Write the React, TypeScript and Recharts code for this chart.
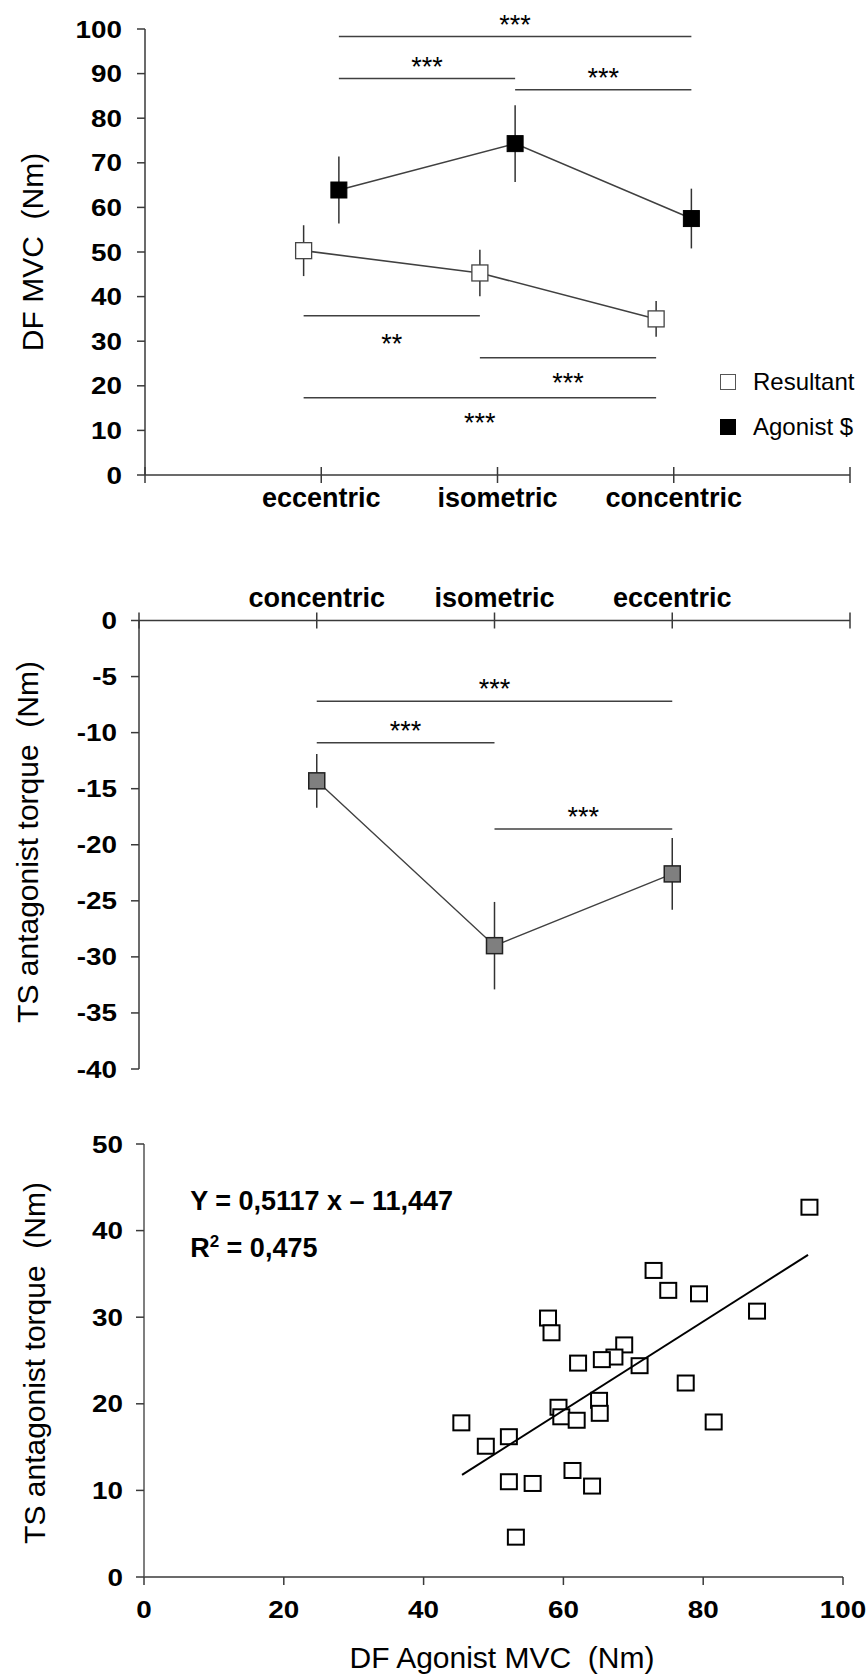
import {
  ErrorBar,
  Legend,
  Line,
  LineChart,
  ReferenceDot,
  ReferenceLine,
  Scatter,
  ScatterChart,
  XAxis,
  YAxis,
} from "recharts";

const FONT = '"Liberation Sans", Arial, Helvetica, sans-serif';
const AXIS = "#3a3a3a";
const LINE = "#404040";

// panel A: DF MVC per contraction type
const mvcPhases = ["eccentric", "isometric", "concentric"];
const resultantMvc = [50.3, 45.3, 35.0];
const resultantSd = [5.7, 5.2, 4.0];
const agonistMvc = [63.9, 74.3, 57.5];
const agonistSd = [7.5, 8.6, 6.7];
const mvcTicks = [0, 10, 20, 30, 40, 50, 60, 70, 80, 90, 100];
const legendNames = ["Resultant", "Agonist $"];

// significance bars (phase index from/to, series, height in Nm)
const mvcBrackets = [
  { from: 0, to: 2, series: "agonist", y: 98.3, stars: "***", side: "above" },
  { from: 0, to: 1, series: "agonist", y: 88.9, stars: "***", side: "above" },
  { from: 1, to: 2, series: "agonist", y: 86.4, stars: "***", side: "above" },
  { from: 0, to: 1, series: "resultant", y: 35.7, stars: "**", side: "below" },
  { from: 1, to: 2, series: "resultant", y: 26.3, stars: "***", side: "below" },
  { from: 0, to: 2, series: "resultant", y: 17.3, stars: "***", side: "below" },
];

// panel B: TS antagonist torque
const torquePhases = ["concentric", "isometric", "eccentric"];
const antagonistTorque = [-14.3, -29.0, -22.6];
const antagonistSd = [2.4, 3.9, 3.2];
const torqueTicks = [0, -5, -10, -15, -20, -25, -30, -35, -40];
const torqueBrackets = [
  { from: 0, to: 2, y: -7.2, stars: "***" },
  { from: 0, to: 1, y: -10.9, stars: "***" },
  { from: 1, to: 2, y: -18.6, stars: "***" },
];

// panel C: agonist MVC vs antagonist torque
const agonistMvcX = [
  95.2, 72.9, 75.0, 79.4, 87.7, 57.8, 58.3, 68.7, 67.3, 65.5, 62.1, 70.9, 77.5, 65.1,
  59.3, 59.7, 65.2, 61.9, 45.4, 81.5, 52.2, 48.9, 61.3, 52.2, 55.6, 64.1, 53.2,
];
const antagonistTorqueY = [
  42.7, 35.4, 33.1, 32.7, 30.7, 29.9, 28.2, 26.8, 25.4, 25.1, 24.7, 24.4, 22.4, 20.4,
  19.6, 18.5, 18.9, 18.1, 17.8, 17.9, 16.2, 15.1, 12.3, 11.0, 10.8, 10.5, 4.6,
];
const trendX = [45.5, 95];
const trendY = [11.8, 37.2];
const scatterXTicks = [0, 20, 40, 60, 80, 100];
const scatterYTicks = [0, 10, 20, 30, 40, 50];

const SERIES_SHIFT: Record<string, number> = { resultant: -0.1, agonist: 0.1, none: 0 };

const resultantRows = mvcPhases.map((_, i) => ({
  pos: i + 1 + SERIES_SHIFT.resultant,
  value: resultantMvc[i],
  sd: resultantSd[i],
}));
const agonistRows = mvcPhases.map((_, i) => ({
  pos: i + 1 + SERIES_SHIFT.agonist,
  value: agonistMvc[i],
  sd: agonistSd[i],
}));
const torqueRows = torquePhases.map((_, i) => ({
  pos: i + 1,
  value: antagonistTorque[i],
  sd: antagonistSd[i],
}));
const scatterRows = agonistMvcX.map((x, i) => ({ x, y: antagonistTorqueY[i] }));
const trendRows = trendX.map((x, i) => ({ x, y: trendY[i] }));

// bold digits, a bit wider than plain Arial like in the source figure
function NumTick(props: any) {
  const { x, y, payload, side } = props;
  const anchor = side === "left" ? "end" : "middle";
  const base = side === "left" ? y + 8.5 : y + 17;
  return (
    <text
      transform={`translate(${x},${base}) scale(1.16,1)`}
      textAnchor={anchor}
      fontSize={24}
      fontWeight={700}
      fill="#000"
      fontFamily={FONT}
    >
      {payload.value}
    </text>
  );
}

function PhaseTick(props: any) {
  const { x, y, payload, names, side } = props;
  const label = names[payload.value - 1] ?? "";
  const baseline = side === "bottom" ? y + 32 : y - 14;
  return (
    <g>
      <line x1={x} x2={x} y1={y - 8} y2={y + 8} stroke={AXIS} strokeWidth={1.5} />
      {label && (
        <text
          x={x}
          y={baseline}
          textAnchor="middle"
          fontSize={27}
          fontWeight={700}
          fill="#000"
          fontFamily={FONT}
        >
          {label}
        </text>
      )}
    </g>
  );
}

function VTitle({ px, py, title }: any) {
  return (
    <text
      transform={`translate(${px},${py}) rotate(-90)`}
      textAnchor="middle"
      fontSize={30}
      fill="#000"
      fontFamily={FONT}
      style={{ whiteSpace: "pre" }}
    >
      {title}
    </text>
  );
}

function HTitle({ px, py, title }: any) {
  return (
    <text
      x={px}
      y={py}
      textAnchor="middle"
      fontSize={30}
      fill="#000"
      fontFamily={FONT}
      style={{ whiteSpace: "pre" }}
    >
      {title}
    </text>
  );
}

function squareDot(fill: string, stroke: string, strokeWidth: number, w = 16, h = 16) {
  return (p: any) => {
    if (p.cx == null || p.cy == null) return <g key={p.key} />;
    return (
      <rect
        key={p.key ?? `${p.cx}-${p.cy}`}
        x={p.cx - w / 2}
        y={p.cy - h / 2}
        width={w}
        height={h}
        fill={fill}
        stroke={stroke}
        strokeWidth={strokeWidth}
      />
    );
  };
}

function starShape(text: string, offset: number) {
  return (p: any) => (
    <text
      x={p.cx}
      y={p.cy + offset}
      textAnchor="middle"
      fontSize={27}
      fill="#000"
      fontFamily={FONT}
    >
      {text}
    </text>
  );
}

function bracketMarks(
  list: { from: number; to: number; y: number; stars: string; series?: string; side?: string }[],
  keyPrefix: string
) {
  const out: any[] = [];
  list.forEach((b, i) => {
    const shift = SERIES_SHIFT[b.series ?? "none"];
    const x1 = b.from + 1 + shift;
    const x2 = b.to + 1 + shift;
    out.push(
      <ReferenceLine
        key={`${keyPrefix}-l${i}`}
        segment={[
          { x: x1, y: b.y },
          { x: x2, y: b.y },
        ]}
        stroke={LINE}
        strokeWidth={1.5}
        ifOverflow="visible"
      />
    );
    const below = b.side === "below";
    out.push(
      <ReferenceDot
        key={`${keyPrefix}-t${i}`}
        x={(x1 + x2) / 2}
        y={b.y}
        r={1}
        ifOverflow="visible"
        shape={starShape(b.stars, below ? (b.stars.length === 2 ? 37 : 34) : -3)}
      />
    );
  });
  return out;
}

function MvcLegend() {
  const marks = [
    { fill: "#fff", stroke: "#555" },
    { fill: "#000", stroke: "#000" },
  ];
  return (
    <div style={{ fontFamily: FONT, fontSize: 24, color: "#000" }}>
      {legendNames.map((name, i) => (
        <div key={name} style={{ display: "flex", alignItems: "center", height: 45 }}>
          <span
            style={{
              display: "inline-block",
              width: 14,
              height: 14,
              background: marks[i].fill,
              border: `1px solid ${marks[i].stroke}`,
              marginRight: 17,
            }}
          />
          <span>{name}</span>
        </div>
      ))}
    </div>
  );
}

function MvcPanel() {
  return (
    <LineChart width={868} height={540} margin={{ top: 29, right: 18, bottom: 15, left: 0 }}>
      <XAxis
        type="number"
        dataKey="pos"
        domain={[0, 4]}
        ticks={[0, 1, 2, 3, 4]}
        interval={0}
        height={50}
        tickSize={0}
        tickMargin={0}
        tickLine={false}
        axisLine={{ stroke: AXIS, strokeWidth: 1.5 }}
        tick={<PhaseTick names={mvcPhases} side="bottom" />}
      />
      <YAxis
        type="number"
        domain={[0, 100]}
        ticks={mvcTicks}
        interval={0}
        width={145}
        tickSize={8}
        tickMargin={15}
        tick={<NumTick side="left" />}
        tickLine={{ stroke: AXIS, strokeWidth: 1.5 }}
        axisLine={{ stroke: AXIS, strokeWidth: 1.5 }}
        label={<VTitle px={43} py={252} title="DF MVC  (Nm)" />}
      />
      {bracketMarks(mvcBrackets, "mvc")}
      <Line
        data={resultantRows}
        dataKey="value"
        name={legendNames[0]}
        stroke={LINE}
        strokeWidth={1.6}
        dot={squareDot("#fff", "#444", 1.3)}
        isAnimationActive={false}
      >
        <ErrorBar dataKey="sd" width={0} stroke="#333" strokeWidth={1.5} direction="y" />
      </Line>
      <Line
        data={agonistRows}
        dataKey="value"
        name={legendNames[1]}
        stroke={LINE}
        strokeWidth={1.6}
        dot={squareDot("#000", "#000", 1)}
        isAnimationActive={false}
      >
        <ErrorBar dataKey="sd" width={0} stroke="#333" strokeWidth={1.5} direction="y" />
      </Line>
      <Legend
        layout="vertical"
        align="center"
        verticalAlign="middle"
        wrapperStyle={{ left: 720, top: 359, width: 148 }}
        content={() => <MvcLegend />}
      />
    </LineChart>
  );
}

function TorquePanel() {
  return (
    <LineChart width={868} height={560} margin={{ top: 20.5, right: 18, bottom: 31, left: 0 }}>
      <XAxis
        type="number"
        dataKey="pos"
        orientation="top"
        domain={[0, 4]}
        ticks={[0, 1, 2, 3, 4]}
        interval={0}
        height={60}
        tickSize={0}
        tickMargin={0}
        tickLine={false}
        axisLine={{ stroke: AXIS, strokeWidth: 1.5 }}
        tick={<PhaseTick names={torquePhases} side="top" />}
      />
      <YAxis
        type="number"
        domain={[-40, 0]}
        ticks={torqueTicks}
        interval={0}
        width={139}
        tickSize={8}
        tickMargin={14}
        tick={<NumTick side="left" />}
        tickLine={{ stroke: AXIS, strokeWidth: 1.5 }}
        axisLine={{ stroke: AXIS, strokeWidth: 1.5 }}
        label={<VTitle px={38} py={302} title="TS antagonist torque  (Nm)" />}
      />
      {bracketMarks(torqueBrackets, "ts")}
      <Line
        data={torqueRows}
        dataKey="value"
        stroke={LINE}
        strokeWidth={1.4}
        dot={squareDot("#7f7f7f", "#222", 1.5)}
        isAnimationActive={false}
      >
        <ErrorBar dataKey="sd" width={0} stroke="#333" strokeWidth={1.5} direction="y" />
      </Line>
    </LineChart>
  );
}

function EquationShape(p: any) {
  return (
    <text x={p.cx} y={p.cy} fontSize={27} fontWeight={700} fill="#000" fontFamily={FONT}>
      Y = 0,5117 x – 11,447
    </text>
  );
}

function RsqShape(p: any) {
  return (
    <text x={p.cx} y={p.cy} fontSize={27} fontWeight={700} fill="#000" fontFamily={FONT}>
      R
      <tspan fontSize={17} dy={-10}>
        2
      </tspan>
      <tspan dy={10}> = 0,475</tspan>
    </text>
  );
}

function ScatterPanel() {
  return (
    <ScatterChart width={868} height={574} margin={{ top: 44, right: 25, bottom: 37, left: 0 }}>
      <XAxis
        type="number"
        dataKey="x"
        domain={[0, 100]}
        ticks={scatterXTicks}
        interval={0}
        height={60}
        tickSize={8}
        tickMargin={16}
        tick={<NumTick side="bottom" />}
        tickLine={{ stroke: AXIS, strokeWidth: 1.5 }}
        axisLine={{ stroke: AXIS, strokeWidth: 1.5 }}
        label={<HTitle px={502} py={568} title="DF Agonist MVC  (Nm)" />}
      />
      <YAxis
        type="number"
        dataKey="y"
        domain={[0, 50]}
        ticks={scatterYTicks}
        interval={0}
        width={144}
        tickSize={8}
        tickMargin={13}
        tick={<NumTick side="left" />}
        tickLine={{ stroke: AXIS, strokeWidth: 1.5 }}
        axisLine={{ stroke: "#555", strokeWidth: 1.5 }}
        label={<VTitle px={45} py={263} title="TS antagonist torque  (Nm)" />}
      />
      <ReferenceDot x={6.6} y={42.4} r={1} ifOverflow="visible" shape={EquationShape} />
      <ReferenceDot x={6.6} y={37} r={1} ifOverflow="visible" shape={RsqShape} />
      <Scatter
        data={scatterRows}
        shape={squareDot("#fff", "#000", 2, 16, 15)}
        isAnimationActive={false}
      />
      <Scatter
        data={trendRows}
        line={{ stroke: "#000", strokeWidth: 2 }}
        shape={() => <g />}
        isAnimationActive={false}
      />
    </ScatterChart>
  );
}

export default function App() {
  return (
    <div
      style={{
        position: "absolute",
        left: 0,
        top: 0,
        width: 868,
        height: 1674,
        background: "#fff",
        overflow: "hidden",
      }}
    >
      <div style={{ position: "absolute", left: 0, top: 0 }}>
        <MvcPanel />
      </div>
      <div style={{ position: "absolute", left: 0, top: 540 }}>
        <TorquePanel />
      </div>
      <div style={{ position: "absolute", left: 0, top: 1100 }}>
        <ScatterPanel />
      </div>
    </div>
  );
}
